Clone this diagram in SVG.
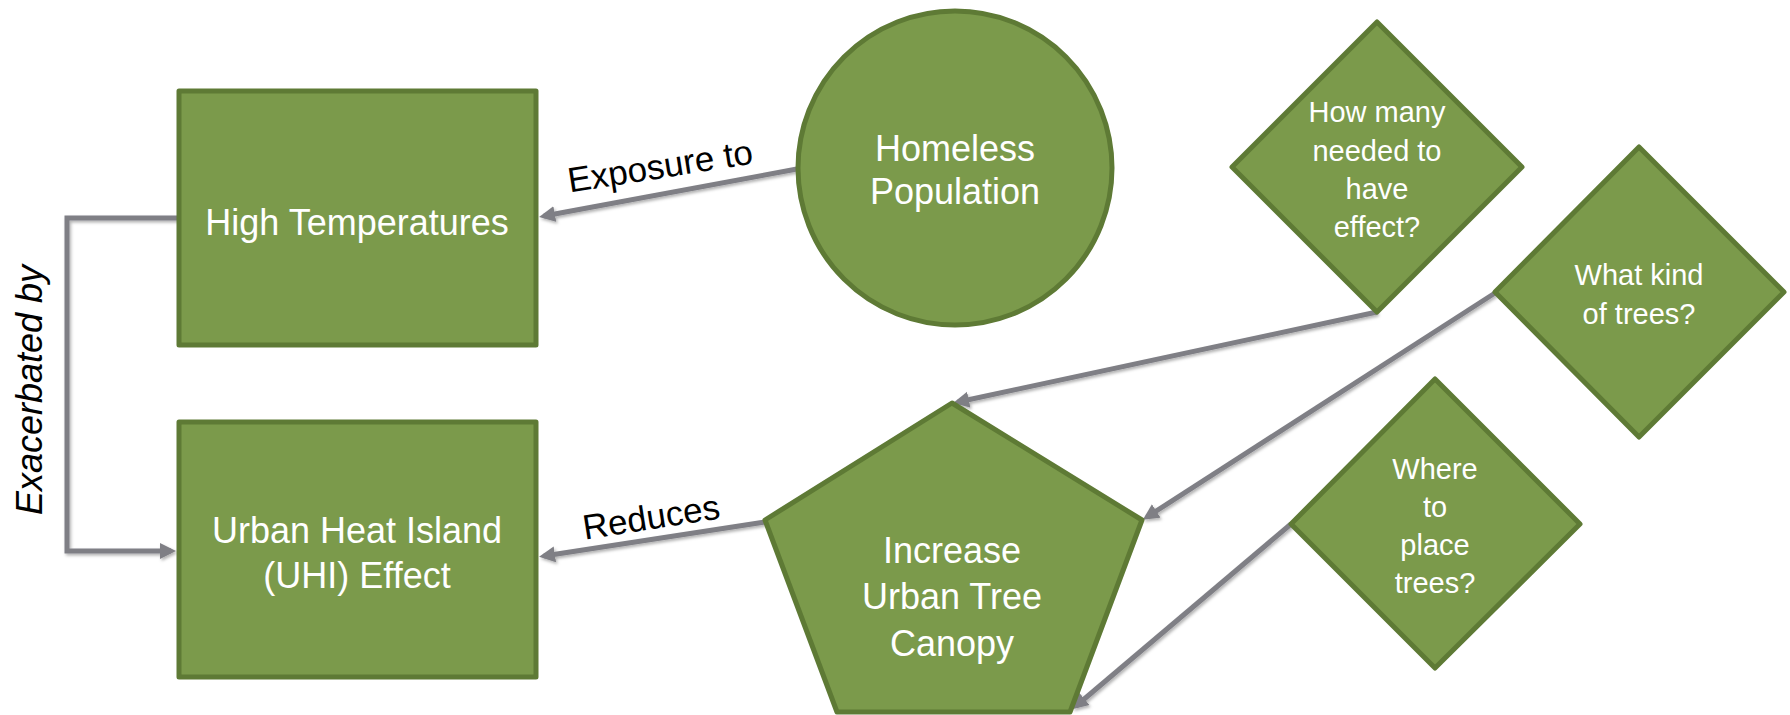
<svg xmlns="http://www.w3.org/2000/svg" width="1790" height="715" viewBox="0 0 1790 715">
<style>
.node{fill:#7B9A4B;stroke:#5E7A35;stroke-width:5;stroke-linejoin:round}
.nt{font-family:"Liberation Sans",Arial,sans-serif;font-size:36px;fill:#ffffff;text-anchor:middle}
.dt{font-family:"Liberation Sans",Arial,sans-serif;font-size:29px;fill:#ffffff;text-anchor:middle}
.lbl{font-family:"Liberation Sans",Arial,sans-serif;font-size:35px;fill:#000000;text-anchor:middle}
.conn{fill:none;stroke:#7F7F85;stroke-width:5;marker-end:url(#arr)}
</style>
<defs>
<marker id="arr" markerUnits="userSpaceOnUse" markerWidth="17" markerHeight="17" refX="11" refY="8.5" orient="auto">
<path d="M0,0.5 L16,8.5 L0,16.5 Z" fill="#7F7F85"/>
</marker>
<filter id="sh" x="-10%" y="-10%" width="120%" height="130%">
<feDropShadow dx="1.5" dy="2" stdDeviation="1.5" flood-color="#000" flood-opacity="0.3"/>
</filter>
</defs>
<rect width="1790" height="715" fill="#ffffff"/>

<g id="connectors" filter="url(#sh)">
<path class="conn" d="M178,218 H67 V551 H171"/>
<path class="conn" d="M797,169 L544,216"/>
<path class="conn" d="M765,522 L544,556"/>
<path class="conn" d="M1377,312 L958,402"/>
<path class="conn" d="M1495,293 L1147,517"/>
<path class="conn" d="M1291,524 L1076,706"/>
</g>

<g id="label-exacerbated">
<text x="42" y="390" transform="rotate(-90 42 390)" font-family="Liberation Sans, Arial, sans-serif" font-size="36" font-style="italic" fill="#000" text-anchor="middle">Exacerbated by</text>
</g>
<g id="label-exposure">
<text class="lbl" x="662" y="178" transform="rotate(-9 662 178)">Exposure to</text>
</g>
<g id="label-reduces">
<text class="lbl" x="653" y="529" transform="rotate(-9 653 529)">Reduces</text>
</g>

<g id="high-temperatures">
<rect class="node" x="179" y="91" width="357" height="254"/>
<text class="nt" x="357" y="235">High Temperatures</text>
</g>

<g id="uhi-effect">
<rect class="node" x="179" y="422" width="357" height="255"/>
<text class="nt" x="357" y="543">Urban Heat Island</text>
<text class="nt" x="357" y="588">(UHI) Effect</text>
</g>

<g id="homeless-population">
<circle class="node" cx="955" cy="168" r="157"/>
<text class="nt" x="955" y="161">Homeless</text>
<text class="nt" x="955" y="204">Population</text>
</g>

<g id="tree-canopy">
<polygon class="node" points="952,403 1142,520 1070,712 837,712 765,520"/>
<text class="nt" x="952" y="563">Increase</text>
<text class="nt" x="952" y="609">Urban Tree</text>
<text class="nt" x="952" y="656">Canopy</text>
</g>

<g id="how-many">
<polygon class="node" points="1377,22 1522,167 1377,312 1232,167"/>
<text class="dt" x="1377" y="122">How many</text>
<text class="dt" x="1377" y="161">needed to</text>
<text class="dt" x="1377" y="199">have</text>
<text class="dt" x="1377" y="237">effect?</text>
</g>

<g id="what-kind">
<polygon class="node" points="1639,147 1784,292 1639,437 1495,292"/>
<text class="dt" x="1639" y="285">What kind</text>
<text class="dt" x="1639" y="324">of trees?</text>
</g>

<g id="where-to-place">
<polygon class="node" points="1435,379 1580,524 1435,668 1291,524"/>
<text class="dt" x="1435" y="479">Where</text>
<text class="dt" x="1435" y="517">to</text>
<text class="dt" x="1435" y="555">place</text>
<text class="dt" x="1435" y="593">trees?</text>
</g>
</svg>
